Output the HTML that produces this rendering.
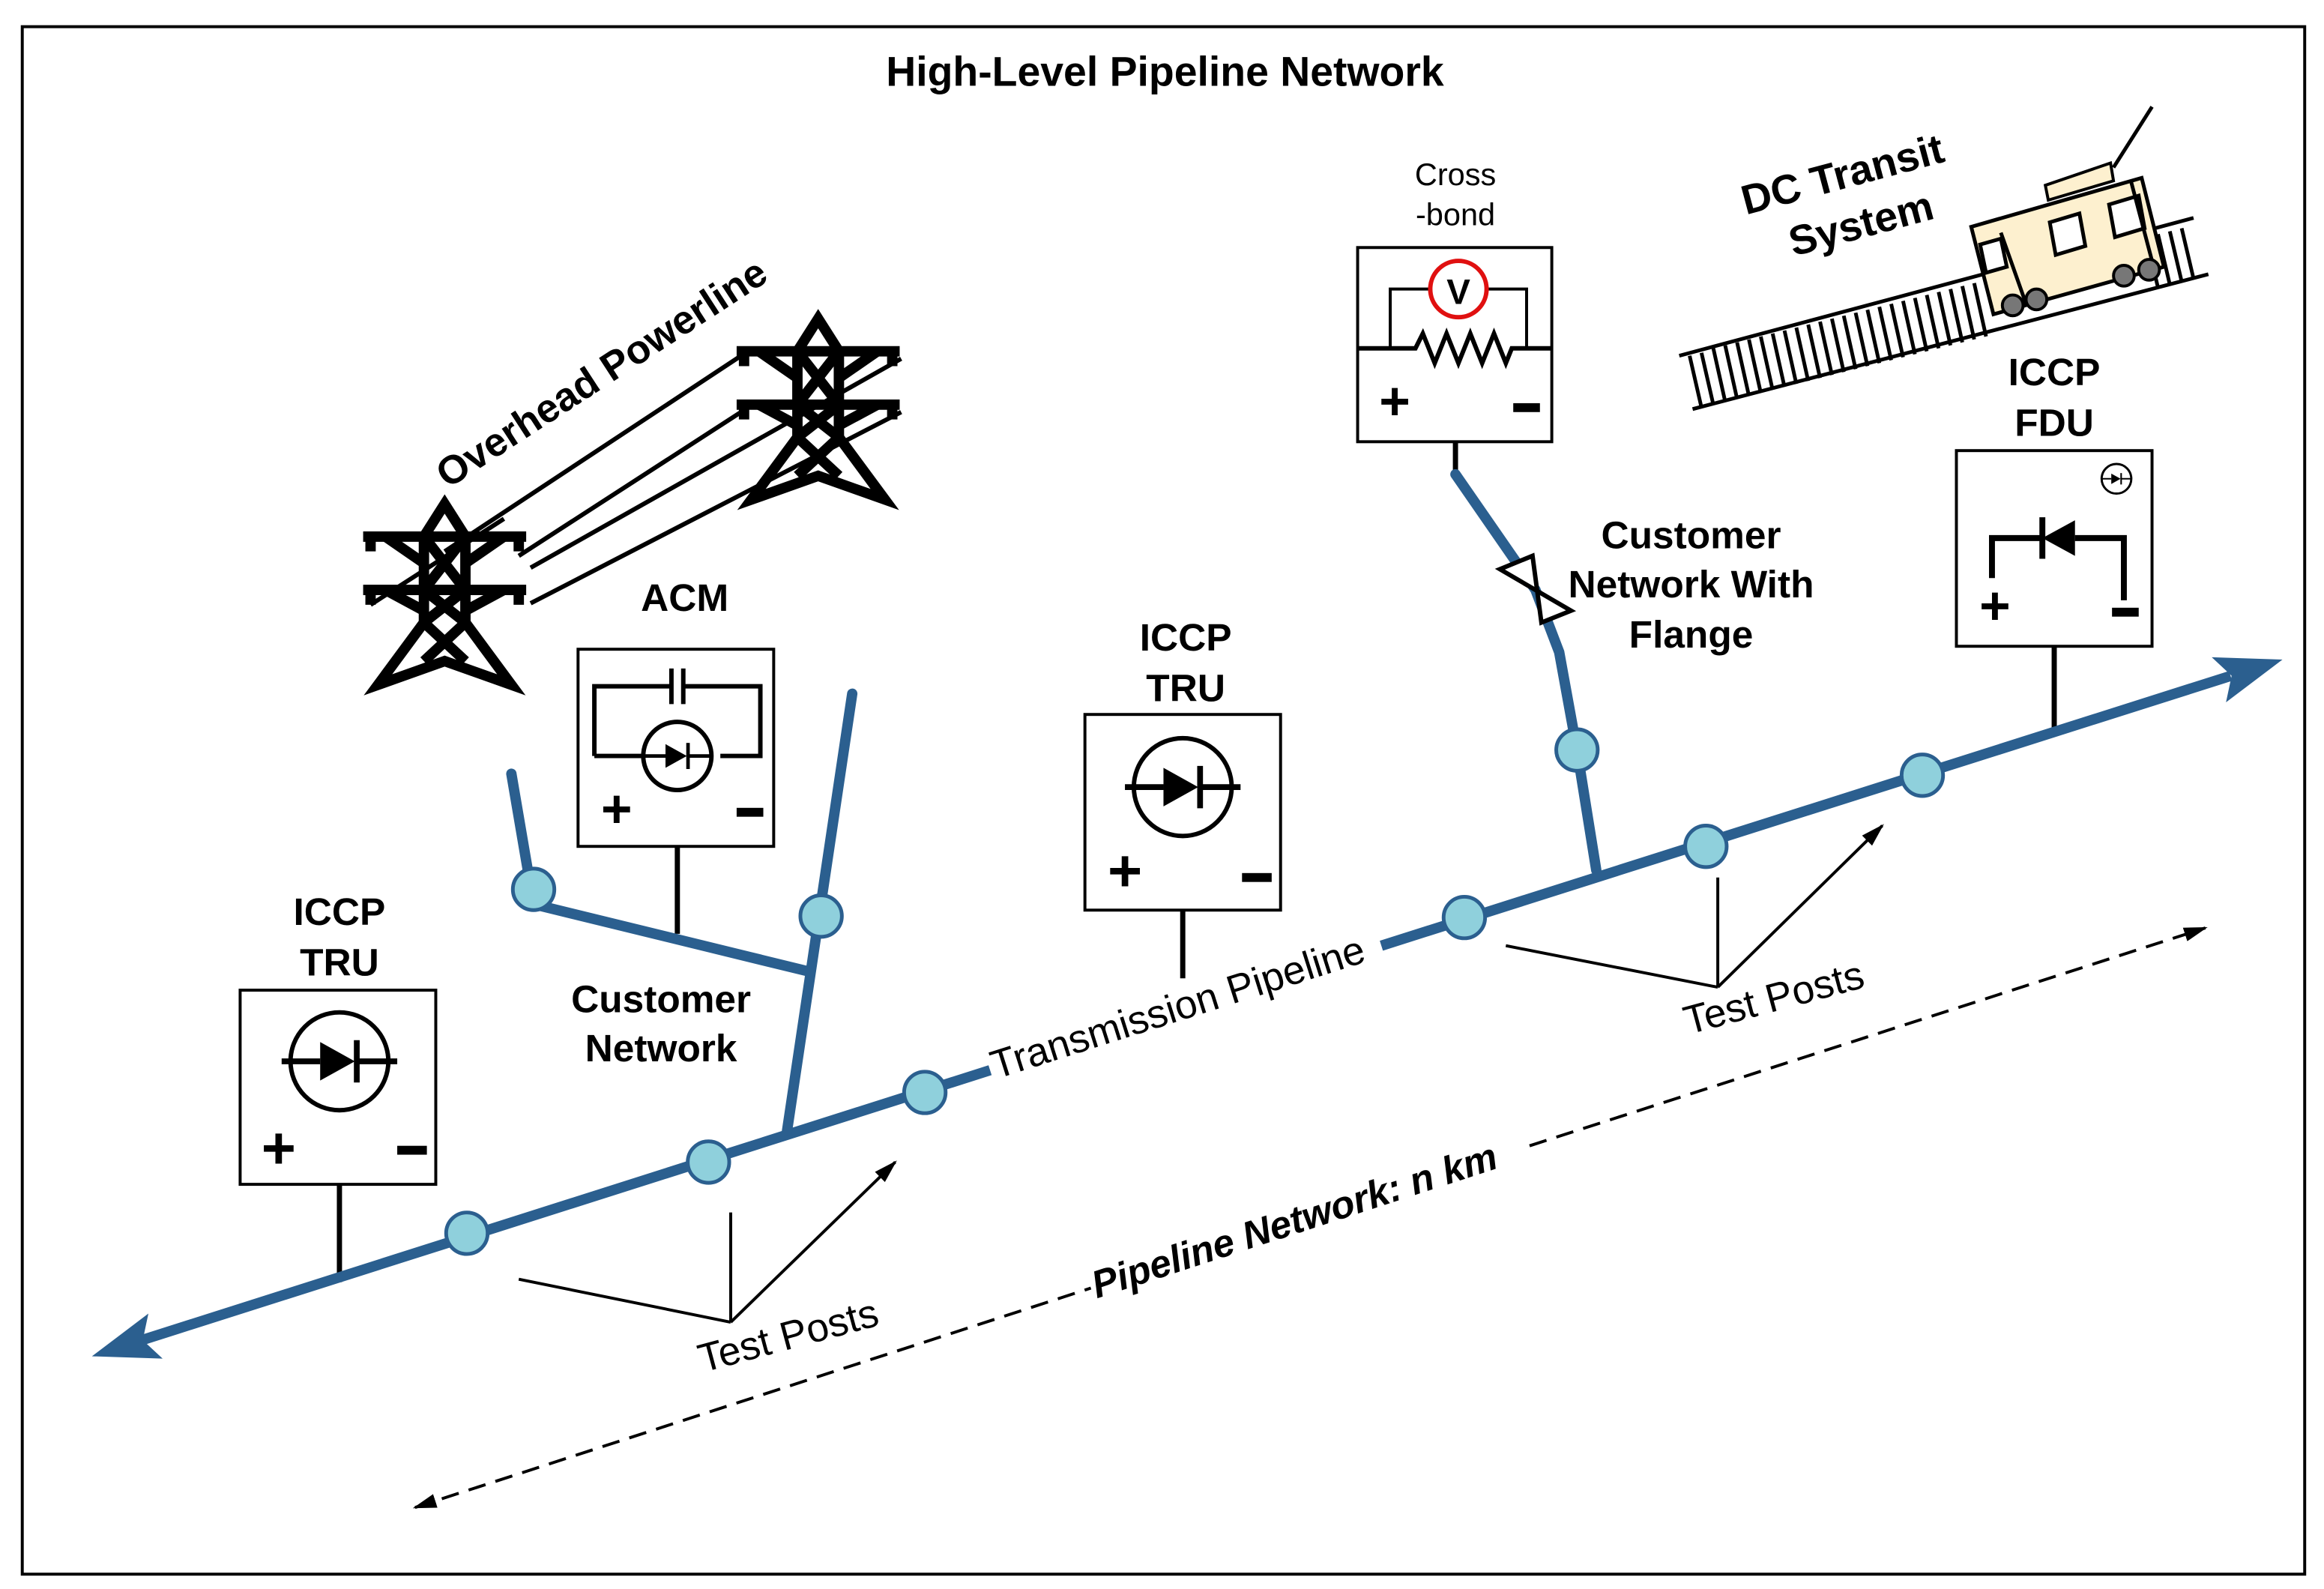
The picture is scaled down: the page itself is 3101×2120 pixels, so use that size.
<!DOCTYPE html>
<html><head><meta charset="utf-8"><style>html,body{margin:0;padding:0;background:#fff}svg{display:block}</style></head>
<body>
<svg width="3101" height="2120" viewBox="0 0 1568 1072" xmlns="http://www.w3.org/2000/svg" font-family="Liberation Sans, Arial, sans-serif">
<defs>
<g id="tower" fill="none" stroke="#000" stroke-width="7" stroke-linejoin="miter">
<path d="M0,0 L-14,22 L-14,80 L-45,122 L0,106 L45,122 L14,80 L14,22 Z"/>
<path d="M-55,22 H55 M-55,58 H55 M-50,22 v10 M50,22 v10 M-50,58 v10 M50,58 v10"/>
<path d="M-14,22 L14,58 M14,22 L-14,58 M-14,58 L14,80 M14,58 L-14,80 M-14,80 L14,106 M14,80 L-14,106 M-40,22 L-14,40 M40,22 L14,40 M-40,58 L-14,72 M40,58 L14,72"/>
</g>
<g id="diode"><path d="M-30,0 H-10 M10,0 H30" stroke="#000" stroke-width="3"/><path d="M-10,-10 L8,0 L-10,10 Z" fill="#000"/><path d="M9,-11 V11" stroke="#000" stroke-width="3"/></g>
<marker id="ah" viewBox="0 0 10 10" refX="9" refY="5" markerWidth="16" markerHeight="16" orient="auto-start-reverse" markerUnits="userSpaceOnUse"><path d="M0,2 L10,5 L0,8 Z" fill="#000"/></marker>
</defs>
<rect x="15" y="18" width="1540" height="1044" fill="#fff" stroke="#000" stroke-width="2"/>
<text x="786" y="58" font-size="28" font-weight="bold" text-anchor="middle">High-Level Pipeline Network</text>

<!-- towers and wires -->
<g stroke="#000" stroke-width="3">
<line x1="300" y1="372" x2="500" y2="240"/><line x1="350" y1="375" x2="500" y2="278"/>
<line x1="358" y1="383" x2="608" y2="242"/><line x1="358" y1="407" x2="608" y2="278"/>
<line x1="250" y1="408" x2="340" y2="350"/>
</g>
<use href="#tower" x="300" y="340"/>
<use href="#tower" x="552" y="215"/>
<text transform="translate(302,330) rotate(-33)" font-size="27" font-weight="bold">Overhead Powerline</text>

<!-- train -->
<g stroke="#000" stroke-width="2.5" fill="none">
<path d="M1133,240 L1480,147 M1142,276 L1490,185"/>
<path d="M1140,240 L1148,275 M1148,238 L1156,273 M1156,235 L1164,271 M1164,233 L1172,269 M1172,231 L1180,267 M1180,229 L1188,265 M1188,227 L1196,263 M1196,225 L1204,261 M1204,223 L1212,259 M1212,221 L1220,257 M1220,219 L1228,255 M1228,217 L1236,253 M1236,215 L1244,251 M1244,213 L1252,249 M1252,211 L1260,247 M1260,209 L1268,245 M1268,207 L1276,243 M1276,205 L1284,241 M1284,203 L1292,239 M1292,201 L1300,237 M1300,199 L1308,235 M1308,197 L1316,233 M1316,195 L1324,231 M1324,193 L1332,229 M1332,191 L1340,227 M1448,160 L1456,194 M1456,158 L1464,192 M1464,156 L1472,190 M1472,154 L1480,188"/>
</g>
<path d="M1382,135 L1426,122 L1424,110 L1380,125 Z" fill="#fdf0cf" stroke="#000" stroke-width="2"/>
<path d="M1330,153 L1445,120 L1460,180 L1345,212 Z" fill="#fdf0cf" stroke="#000" stroke-width="2.5"/>
<g stroke="#000" stroke-width="2.5" fill="#fff">
<path d="M1336,165 L1350,161 L1354,180 L1340,184 Z"/><path d="M1383,150 L1403,144 L1407,166 L1387,172 Z"/><path d="M1423,138 L1443,132 L1447,154 L1427,160 Z"/>
<path d="M1350,157 L1367,205 M1426,113 L1452,72 M1438,123 L1452,176" fill="none"/>
</g>
<g fill="#777" stroke="#000" stroke-width="2"><circle cx="1358" cy="206" r="7"/><circle cx="1374" cy="202" r="7"/><circle cx="1433" cy="186" r="7"/><circle cx="1450" cy="182" r="7"/></g>
<text transform="translate(1178,145) rotate(-15)" font-size="28" font-weight="bold">DC Transit</text>
<text transform="translate(1210,173) rotate(-15)" font-size="28" font-weight="bold">System</text>

<!-- dashed pipeline network -->
<g stroke="#000" stroke-width="2" stroke-dasharray="12,7" fill="none">
<line x1="280" y1="1017" x2="736" y2="869" marker-start="url(#ah)"/>
<line x1="1032" y1="773" x2="1488" y2="626" marker-end="url(#ah)"/>
</g>
<text transform="translate(740,876) rotate(-18)" font-size="26" font-weight="bold" font-style="italic">Pipeline Network: n km</text>

<!-- test post arrows -->
<g stroke="#000" stroke-width="2" fill="none">
<path d="M493,818 V892 M493,892 L350,863 M493,892 L604,784" marker-end="url(#ah)"/>
<path d="M1159,592 V666 M1159,666 L1016,638 M1159,666 L1270,557" marker-end="url(#ah)"/>
</g>
<text transform="translate(474,926) rotate(-15)" font-size="27">Test Posts</text>
<text transform="translate(1139,698) rotate(-15)" font-size="27">Test Posts</text>

<!-- leads -->
<g stroke="#000" stroke-width="3.5">
<line x1="229" y1="799" x2="229" y2="865"/><line x1="457" y1="571" x2="457" y2="630"/>
<line x1="798" y1="614" x2="798" y2="660"/><line x1="1386" y1="436" x2="1386" y2="495"/>
<line x1="982" y1="298" x2="982" y2="320"/>
</g>

<!-- pipelines -->
<g stroke="#2b5f8f" stroke-width="7" fill="none">
<line x1="96" y1="904" x2="668" y2="722"/>
<line x1="932" y1="638" x2="1505" y2="456"/>
<path d="M531,763 L575,468 M544,655 L360,610 L345,522" stroke-linecap="round"/>
<path d="M1077,587 L1064,506 L1052,440 L1036,398 L982,320" stroke-linecap="round"/>
</g>
<path d="M62,915 L109.7,916.6 L96.3,904.1 L100.1,886.2 Z" fill="#2b5f8f"/>
<path d="M1540,445 L1492.3,443.4 L1505.7,455.9 L1501.9,473.8 Z" fill="#2b5f8f"/>
<text transform="translate(672,728) rotate(-17.6)" font-size="27">Transmission Pipeline</text>
<!-- flange -->
<path d="M1012,384 L1034,375 L1040,420 L1060,412 Z" fill="#fff" stroke="#000" stroke-width="3"/>

<g fill="#8fd0dc" stroke="#2b5f8f" stroke-width="2.5">
<circle cx="315" cy="832" r="14"/><circle cx="478" cy="784" r="14"/><circle cx="624" cy="737" r="14"/>
<circle cx="988" cy="619" r="14"/><circle cx="1151" cy="571" r="14"/><circle cx="1297" cy="523" r="14"/>
<circle cx="360" cy="600" r="14"/><circle cx="554" cy="618" r="14"/><circle cx="1064" cy="506" r="14"/>
</g>

<!-- boxes -->
<g fill="#fff" stroke="#000" stroke-width="2">
<rect x="162" y="668" width="132" height="131"/><rect x="390" y="438" width="132" height="133"/>
<rect x="732" y="482" width="132" height="132"/><rect x="916" y="167" width="131" height="131"/>
<rect x="1320" y="304" width="132" height="132"/>
</g>
<g font-weight="bold" text-anchor="middle" font-size="26">
<text x="229" y="624">ICCP</text><text x="229" y="658">TRU</text>
<text x="462" y="412">ACM</text>
<text x="800" y="439">ICCP</text><text x="800" y="473">TRU</text>
<text x="1386" y="260">ICCP</text><text x="1386" y="294">FDU</text>
<text x="1141" y="370">Customer</text><text x="1141" y="403">Network With</text><text x="1141" y="437">Flange</text>
<text x="446" y="683">Customer</text><text x="446" y="716">Network</text>
</g>
<text x="982" y="125" font-size="21" text-anchor="middle">Cross</text>
<text x="982" y="152" font-size="21" text-anchor="middle">-bond</text>

<!-- box contents: TRU left -->
<circle cx="229" cy="716" r="33" fill="none" stroke="#000" stroke-width="3"/>
<g transform="translate(229,716) scale(1.3)"><use href="#diode"/></g>
<text x="188" y="788" font-size="40" font-weight="bold" text-anchor="middle">+</text>
<rect x="268" y="773" width="20" height="6"/>
<!-- TRU mid -->
<circle cx="798" cy="531" r="33" fill="none" stroke="#000" stroke-width="3"/>
<g transform="translate(798,531) scale(1.3)"><use href="#diode"/></g>
<text x="759" y="601" font-size="40" font-weight="bold" text-anchor="middle">+</text>
<rect x="838" y="589" width="20" height="6"/>
<!-- ACM -->
<path d="M401,510 V463 H452 M462,463 H513 V510 H486 M433,510 H401" fill="none" stroke="#000" stroke-width="3"/>
<path d="M453,451 V475 M461,451 V475" stroke="#000" stroke-width="3"/>
<circle cx="457" cy="510" r="23" fill="none" stroke="#000" stroke-width="3"/>
<g transform="translate(457,510) scale(0.8)"><use href="#diode"/></g>
<text x="416" y="558" font-size="36" font-weight="bold" text-anchor="middle">+</text>
<rect x="497" y="545" width="18" height="6"/>
<!-- Cross-bond -->
<path d="M916,235 H955 L960,225 L968,245 L976,225 L984,245 L992,225 L1000,245 L1008,225 L1016,245 L1020,235 H1047" fill="none" stroke="#000" stroke-width="3"/>
<path d="M938,235 V195 H966 M1002,195 H1030 V235" fill="none" stroke="#000" stroke-width="2"/>
<circle cx="984" cy="195" r="19" fill="#fff" stroke="#e01010" stroke-width="3"/>
<text x="984" y="205" font-size="24" font-weight="bold" text-anchor="middle">V</text>
<text x="941" y="283" font-size="36" font-weight="bold" text-anchor="middle">+</text>
<rect x="1021" y="272" width="18" height="6"/>
<!-- FDU -->
<path d="M1344,390 V363 H1378 M1400,363 H1433 V405" fill="none" stroke="#000" stroke-width="4"/>
<path d="M1400,351 L1378,363 L1400,375 Z" fill="#000"/><path d="M1378,349 V377" stroke="#000" stroke-width="4"/>
<circle cx="1428" cy="323" r="10" fill="none" stroke="#000" stroke-width="1.5"/>
<g transform="translate(1428,323) scale(0.35)"><use href="#diode"/></g>
<text x="1346" y="421" font-size="36" font-weight="bold" text-anchor="middle">+</text>
<rect x="1425" y="410" width="18" height="6"/>
</svg>
</body></html>
